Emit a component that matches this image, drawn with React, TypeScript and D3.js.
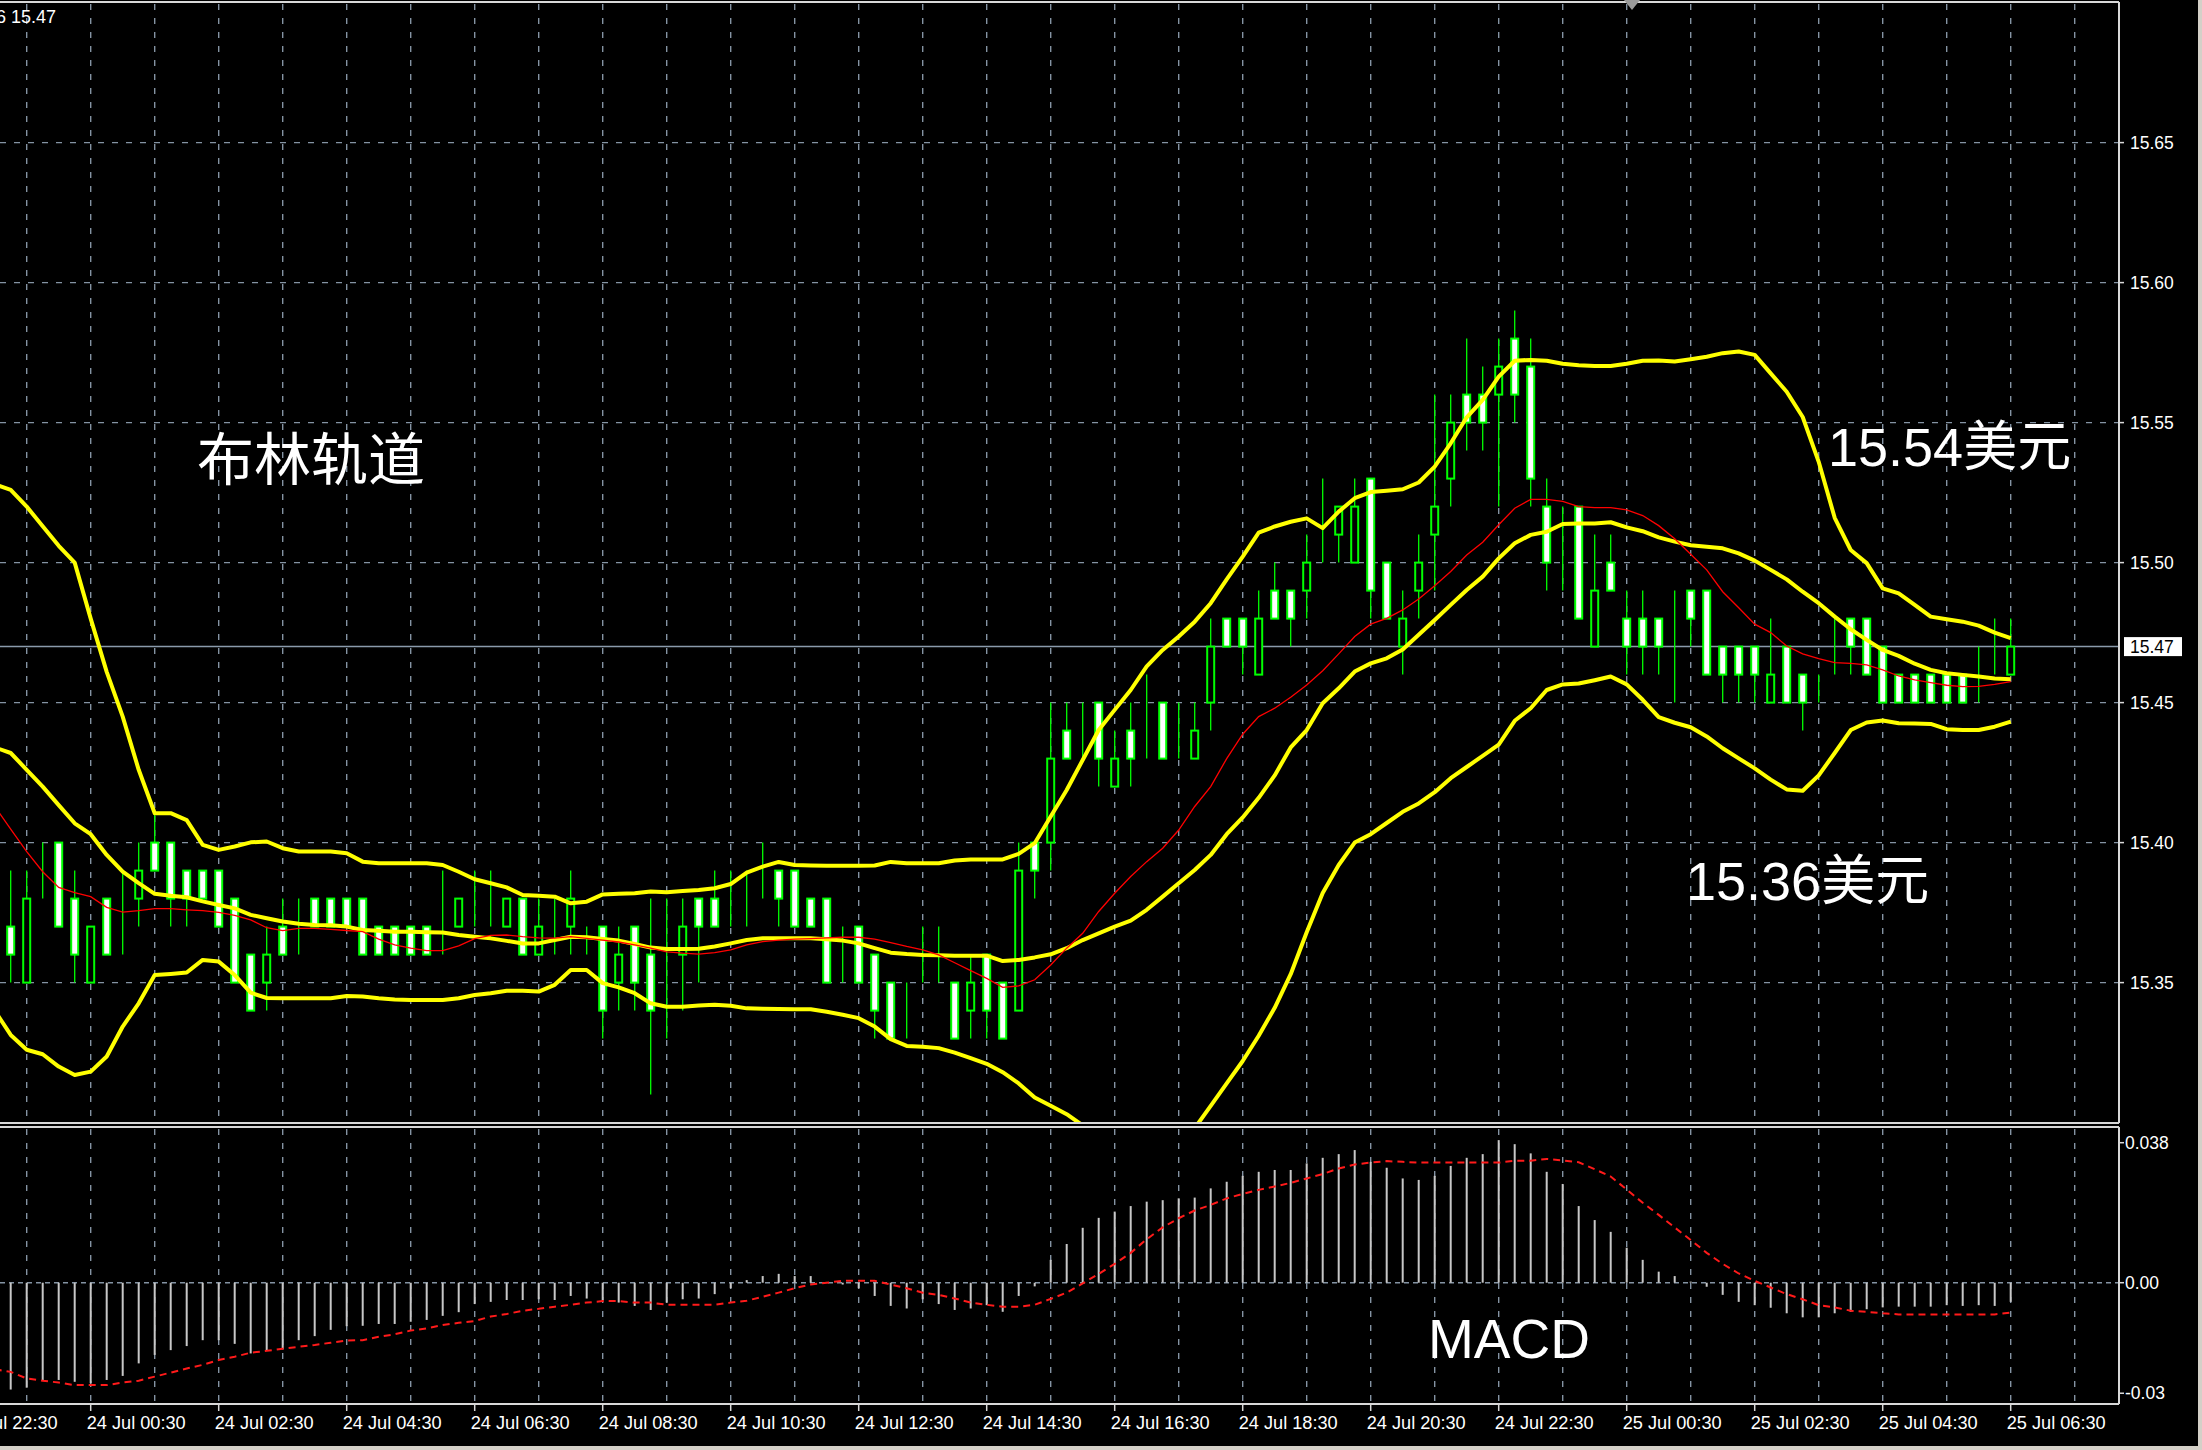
import React from 'react';
import * as d3 from 'd3';

const W = 2202;
const H = 1450;

// candle index 0 = 23 Jul 23:00 (M15), last = 25 Jul 06:30
const firstTime = Date.UTC(2019, 6, 23, 23, 0);
const BAR_MINUTES = 15;

const opens = [15.36,15.37,15.35,15.39,15.40,15.38,15.35,15.38,15.37,15.38,15.40,15.40,15.39,15.39,15.39,15.38,15.36,15.35,15.37,15.37,15.38,15.38,15.38,15.38,15.37,15.37,15.37,15.37,15.37,15.37,15.38,15.37,15.37,15.38,15.36,15.37,15.37,15.36,15.37,15.35,15.37,15.36,15.35,15.36,15.38,15.38,15.38,15.38,15.38,15.39,15.39,15.38,15.38,15.36,15.37,15.36,15.35,15.34,15.35,15.35,15.35,15.34,15.36,15.35,15.34,15.40,15.40,15.44,15.44,15.45,15.42,15.44,15.44,15.45,15.44,15.43,15.45,15.48,15.48,15.46,15.49,15.49,15.49,15.51,15.51,15.50,15.53,15.50,15.47,15.49,15.51,15.53,15.56,15.56,15.56,15.58,15.57,15.52,15.51,15.52,15.47,15.50,15.48,15.48,15.48,15.48,15.49,15.49,15.47,15.47,15.47,15.45,15.47,15.46,15.46,15.47,15.48,15.48,15.47,15.46,15.46,15.46,15.46,15.46,15.46,15.47,15.46];
const highs = [15.38,15.39,15.39,15.40,15.40,15.39,15.37,15.38,15.39,15.40,15.41,15.40,15.39,15.39,15.39,15.38,15.36,15.37,15.38,15.38,15.38,15.38,15.38,15.38,15.37,15.37,15.37,15.37,15.39,15.38,15.39,15.39,15.38,15.38,15.38,15.38,15.39,15.37,15.37,15.37,15.37,15.38,15.38,15.38,15.38,15.39,15.39,15.39,15.40,15.39,15.39,15.38,15.38,15.37,15.37,15.36,15.35,15.35,15.37,15.37,15.35,15.36,15.36,15.35,15.40,15.40,15.45,15.45,15.45,15.45,15.44,15.45,15.46,15.45,15.45,15.45,15.48,15.48,15.48,15.49,15.50,15.49,15.51,15.53,15.52,15.53,15.53,15.50,15.49,15.51,15.56,15.56,15.58,15.57,15.58,15.59,15.58,15.53,15.52,15.52,15.51,15.51,15.49,15.49,15.48,15.49,15.49,15.49,15.47,15.47,15.47,15.48,15.47,15.46,15.46,15.48,15.48,15.48,15.47,15.46,15.46,15.46,15.46,15.46,15.47,15.48,15.48];
const lows = [15.35,15.35,15.35,15.38,15.37,15.35,15.35,15.36,15.36,15.37,15.39,15.37,15.37,15.38,15.37,15.35,15.34,15.34,15.36,15.36,15.37,15.37,15.37,15.36,15.36,15.36,15.36,15.36,15.36,15.37,15.37,15.37,15.37,15.36,15.36,15.36,15.36,15.36,15.33,15.34,15.34,15.31,15.33,15.34,15.35,15.37,15.37,15.37,15.38,15.37,15.37,15.37,15.35,15.35,15.35,15.33,15.33,15.33,15.35,15.35,15.33,15.33,15.33,15.33,15.34,15.38,15.39,15.43,15.43,15.42,15.42,15.42,15.43,15.43,15.43,15.43,15.44,15.47,15.46,15.46,15.48,15.47,15.48,15.50,15.50,15.50,15.48,15.48,15.46,15.48,15.49,15.52,15.54,15.54,15.52,15.55,15.52,15.49,15.49,15.48,15.47,15.49,15.46,15.46,15.46,15.45,15.47,15.46,15.45,15.45,15.45,15.45,15.45,15.44,15.45,15.46,15.46,15.46,15.45,15.45,15.45,15.45,15.45,15.45,15.45,15.46,15.46];
const closes = [15.37,15.36,15.38,15.39,15.37,15.36,15.37,15.36,15.37,15.39,15.39,15.38,15.38,15.38,15.37,15.35,15.34,15.36,15.36,15.37,15.37,15.37,15.37,15.36,15.36,15.36,15.36,15.36,15.37,15.38,15.38,15.37,15.38,15.36,15.37,15.37,15.38,15.36,15.34,15.36,15.35,15.34,15.35,15.37,15.37,15.37,15.38,15.38,15.38,15.38,15.37,15.37,15.35,15.36,15.35,15.34,15.33,15.34,15.35,15.35,15.33,15.35,15.34,15.33,15.39,15.39,15.43,15.43,15.44,15.43,15.43,15.43,15.44,15.43,15.44,15.44,15.47,15.47,15.47,15.48,15.48,15.48,15.50,15.51,15.52,15.52,15.49,15.48,15.48,15.50,15.52,15.55,15.55,15.55,15.57,15.56,15.53,15.50,15.51,15.48,15.49,15.49,15.47,15.47,15.47,15.48,15.48,15.46,15.46,15.46,15.46,15.46,15.45,15.45,15.46,15.47,15.47,15.46,15.45,15.45,15.45,15.45,15.45,15.45,15.46,15.47,15.47];

const bbUpper = [15.528,15.526,15.520,15.513,15.506,15.500,15.480,15.461,15.445,15.426,15.4105,15.4105,15.408,15.3992,15.3974,15.3986,15.4001,15.4004,15.398,15.3968,15.3968,15.3968,15.3962,15.3932,15.3926,15.3926,15.3926,15.3926,15.392,15.3896,15.3869,15.3855,15.384,15.3813,15.381,15.3807,15.3783,15.3789,15.3815,15.3817,15.3819,15.3825,15.3823,15.3827,15.3831,15.3837,15.3852,15.3893,15.3914,15.3931,15.392,15.3918,15.3917,15.3917,15.3917,15.3918,15.3931,15.3926,15.3926,15.3926,15.3936,15.394,15.394,15.394,15.396,15.3998,15.4093,15.4188,15.4295,15.4402,15.4474,15.4545,15.4629,15.4688,15.4736,15.4789,15.4855,15.494,15.5021,15.5107,15.5129,15.5146,15.5158,15.5123,15.5182,15.523,15.5252,15.5257,15.5262,15.5286,15.5343,15.5426,15.5519,15.5581,15.5664,15.5721,15.5724,15.5721,15.571,15.5705,15.5702,15.5702,15.571,15.5721,15.5722,15.5718,15.5726,15.5735,15.5748,15.5754,15.5742,15.5676,15.561,15.552,15.536,15.516,15.5045,15.4998,15.4908,15.489,15.4849,15.4807,15.4798,15.4789,15.4775,15.475,15.473];
const bbMiddle = [15.434,15.432,15.426,15.420,15.4134,15.4069,15.403,15.3956,15.3896,15.3855,15.3817,15.381,15.3805,15.379,15.3777,15.3765,15.3742,15.373,15.3718,15.371,15.3706,15.3705,15.370,15.3688,15.3685,15.3682,15.3682,15.368,15.3679,15.367,15.3664,15.3658,15.3649,15.364,15.364,15.3652,15.3664,15.3662,15.3656,15.365,15.3638,15.3625,15.362,15.362,15.3621,15.3629,15.364,15.3652,15.3658,15.3658,15.3658,15.3658,15.3655,15.365,15.364,15.3623,15.3607,15.3602,15.3599,15.3598,15.3596,15.3596,15.3596,15.3577,15.3581,15.359,15.3601,15.3623,15.3652,15.3676,15.370,15.3721,15.376,15.3807,15.3855,15.3902,15.3956,15.403,15.409,15.416,15.424,15.434,15.4402,15.4498,15.4551,15.4611,15.464,15.4658,15.469,15.4742,15.4795,15.4849,15.4902,15.495,15.5015,15.5069,15.5099,15.511,15.5138,15.514,15.514,15.5144,15.5126,15.5112,15.509,15.5075,15.5062,15.5057,15.5051,15.5033,15.5007,15.4974,15.494,15.4896,15.4855,15.4807,15.4762,15.4724,15.4688,15.4667,15.4639,15.4617,15.4605,15.4599,15.4593,15.4586,15.4583];
const bbLower = [15.340,15.3313,15.326,15.3244,15.320,15.317,15.3182,15.3236,15.3343,15.3426,15.3527,15.3531,15.3536,15.3581,15.3575,15.3527,15.3464,15.3445,15.3444,15.3444,15.3444,15.3444,15.3452,15.345,15.3444,15.344,15.3438,15.3438,15.3438,15.3444,15.3456,15.3462,15.3471,15.3471,15.3468,15.3492,15.3545,15.3545,15.3498,15.3483,15.3462,15.3426,15.3414,15.3414,15.3418,15.3421,15.3417,15.3408,15.3407,15.3406,15.3405,15.3405,15.3396,15.3385,15.3373,15.3343,15.3298,15.3274,15.3271,15.3266,15.325,15.323,15.321,15.318,15.314,15.309,15.306,15.303,15.299,15.285,15.27,15.262,15.262,15.272,15.288,15.298,15.306,15.314,15.322,15.331,15.341,15.353,15.368,15.382,15.392,15.400,15.403,15.407,15.411,15.414,15.418,15.423,15.427,15.431,15.435,15.4435,15.448,15.4545,15.4565,15.4568,15.458,15.4593,15.4565,15.451,15.4448,15.4428,15.4412,15.4379,15.4337,15.4301,15.4265,15.4225,15.419,15.4185,15.424,15.432,15.4402,15.4429,15.4436,15.4426,15.4425,15.4424,15.4405,15.4402,15.4402,15.4414,15.4432];
const redMA = [15.413,15.4048,15.3968,15.3896,15.384,15.3821,15.3807,15.3769,15.3752,15.3757,15.3764,15.3764,15.376,15.3757,15.3751,15.374,15.3724,15.3696,15.3686,15.3694,15.3694,15.369,15.3686,15.3682,15.3655,15.3635,15.3623,15.3614,15.3614,15.3631,15.3657,15.3669,15.367,15.3664,15.366,15.3659,15.3664,15.3658,15.3652,15.3645,15.3635,15.3623,15.361,15.3605,15.3602,15.3607,15.3617,15.3635,15.3646,15.3652,15.3655,15.3657,15.366,15.3662,15.3662,15.3655,15.3643,15.3629,15.3617,15.3599,15.3571,15.3543,15.3515,15.3483,15.3488,15.351,15.3563,15.3623,15.3676,15.3754,15.3819,15.3879,15.3932,15.398,15.4045,15.4129,15.42,15.43,15.4387,15.445,15.448,15.4519,15.4563,15.4614,15.4674,15.4736,15.478,15.4801,15.4831,15.487,15.4917,15.4968,15.5027,15.5073,15.5135,15.5194,15.5226,15.5226,15.5219,15.52,15.5196,15.5196,15.5188,15.5168,15.5132,15.5085,15.503,15.4974,15.4896,15.4839,15.478,15.475,15.4702,15.4674,15.4657,15.4643,15.464,15.4635,15.4617,15.4595,15.4581,15.4571,15.4562,15.4557,15.4558,15.4565,15.4575];

const macdHist = [-0.0292,-0.029,-0.0285,-0.0264,-0.0264,-0.0269,-0.0273,-0.0264,-0.0253,-0.0219,-0.0196,-0.0183,-0.0172,-0.0156,-0.0156,-0.0166,-0.0192,-0.0183,-0.0181,-0.0156,-0.0145,-0.0128,-0.0118,-0.0117,-0.0112,-0.0112,-0.0106,-0.0101,-0.009,-0.008,-0.0058,-0.0052,-0.0047,-0.0047,-0.0045,-0.0047,-0.0036,-0.0043,-0.0047,-0.0054,-0.0063,-0.0074,-0.0054,-0.0045,-0.0043,-0.0031,-0.0015,0.0007,0.0018,0.0024,0.0018,0.0018,0.0002,-0.0005,-0.0015,-0.0036,-0.0063,-0.007,-0.0045,-0.0058,-0.0074,-0.007,-0.0061,-0.0079,-0.0036,-0.001,0.0062,0.0105,0.0149,0.0176,0.0193,0.0208,0.022,0.0224,0.0229,0.0231,0.0256,0.0274,0.029,0.0301,0.0306,0.0306,0.0324,0.0339,0.0349,0.036,0.0328,0.0312,0.0283,0.0279,0.029,0.0317,0.0339,0.0349,0.0387,0.0376,0.0351,0.0301,0.0268,0.0208,0.017,0.0138,0.0095,0.0062,0.003,0.0018,0.0003,-0.0011,-0.0033,-0.0052,-0.0061,-0.0068,-0.0083,-0.0094,-0.0094,-0.0083,-0.0079,-0.0072,-0.0067,-0.0065,-0.0065,-0.0065,-0.0061,-0.0063,-0.0061,-0.0063,-0.0052];
const macdSignal = [-0.0235,-0.0242,-0.026,-0.0266,-0.0271,-0.0278,-0.0278,-0.0278,-0.0271,-0.0266,-0.0255,-0.0244,-0.0233,-0.0223,-0.021,-0.0201,-0.019,-0.0185,-0.0179,-0.0174,-0.0169,-0.0163,-0.0157,-0.0156,-0.0147,-0.014,-0.013,-0.0124,-0.0115,-0.0109,-0.0104,-0.0092,-0.0085,-0.0076,-0.0071,-0.0065,-0.006,-0.0054,-0.005,-0.005,-0.0054,-0.0054,-0.006,-0.006,-0.006,-0.006,-0.0054,-0.0049,-0.0038,-0.0027,-0.0015,-0.0005,0,0.0005,0.0005,0.0005,-0.0005,-0.0015,-0.0027,-0.0033,-0.0043,-0.0054,-0.006,-0.0065,-0.0065,-0.006,-0.0044,-0.0027,-0.0002,0.0024,0.0051,0.0081,0.0118,0.015,0.0175,0.0196,0.0211,0.0229,0.0241,0.0252,0.0261,0.0271,0.0283,0.0295,0.031,0.0321,0.0326,0.033,0.0328,0.0326,0.0326,0.0326,0.0326,0.0326,0.0326,0.0331,0.0331,0.0336,0.0332,0.0327,0.0308,0.0288,0.0253,0.0217,0.0184,0.015,0.0116,0.0081,0.0051,0.0025,0.0005,-0.0013,-0.0031,-0.0045,-0.0061,-0.0067,-0.0076,-0.0079,-0.0083,-0.0086,-0.0086,-0.0086,-0.0086,-0.0086,-0.0086,-0.0086,-0.0081];

const priceTicks = [15.35, 15.40, 15.45, 15.50, 15.55, 15.60, 15.65];
const macdTicks = [0.038, 0, -0.03];
const macdTickLabels = ['0.038', '0.00', '-0.03'];
const timeLabels = ['23 Jul 22:30','24 Jul 00:30','24 Jul 02:30','24 Jul 04:30','24 Jul 06:30','24 Jul 08:30','24 Jul 10:30','24 Jul 12:30','24 Jul 14:30','24 Jul 16:30','24 Jul 18:30','24 Jul 20:30','24 Jul 22:30','25 Jul 00:30','25 Jul 02:30','25 Jul 04:30','25 Jul 06:30'];
const lastPrice = 15.47;
const headerText = '15.46 15.47';
const annoBoll = '布林轨道';
const annoHigh = '15.54美元';
const annoLow = '15.36美元';
const annoMacd = 'MACD';

// layout
const PLOT_RIGHT = 2119;
const MAIN_TOP = 2;
const MAIN_BOTTOM = 1123;
const MACD_TOP = 1127;
const MACD_BOTTOM = 1404;
const BAR_STEP = 16;
const FIRST_X = -5.3;

const GREEN = '#00ff00';
const YELLOW = '#ffff00';
const GRID = '#8493a3';
const BORDER = '#d8d8d8';
const LABEL_FONT = '"Liberation Sans", Arial, sans-serif';
const CJK_FONT = '"Liberation Sans", "Noto Sans CJK SC", sans-serif';

function labelIndex(label: string): number {
  const day = +label.slice(0, 2);
  const hh = +label.slice(7, 9);
  const mm = +label.slice(10, 12);
  const t = Date.UTC(2019, 6, day, hh, mm);
  return (t - firstTime) / (BAR_MINUTES * 60000);
}

export default function App() {
  const N = opens.length;
  const x = d3.scaleLinear().domain([0, N - 1]).range([FIRST_X, FIRST_X + BAR_STEP * (N - 1)]);
  const y = d3.scaleLinear().domain([15.30, 15.70]).range([1122.6, 2.6]);
  const ym = d3.scaleLinear().domain([0, 0.038]).range([1282.7, 1142.7]);

  const idx = d3.range(N);
  const lineGen = (arr: number[]) =>
    d3.line<number>().x((i) => x(i)).y((i) => y(arr[i]))(idx) || '';
  const sigLine = d3.line<number>().x((i) => x(i)).y((i) => ym(macdSignal[i]))(idx) || '';

  // vertical grid at every hour :30 (index 2 + 4j)
  const vGrid: number[] = [];
  for (let i = 2; x(i) < PLOT_RIGHT - 2; i += 4) vGrid.push(x(i));

  const bodyHalf = 3.5;

  return (
    <svg
      width={W}
      height={H}
      style={{ position: 'absolute', left: 0, top: 0, display: 'block', background: '#000' }}
      xmlns="http://www.w3.org/2000/svg"
    >
      <rect x={0} y={0} width={W} height={H} fill="#000" />
      <defs>
        <clipPath id="mainClip">
          <rect x={0} y={MAIN_TOP + 1} width={PLOT_RIGHT - 1} height={MAIN_BOTTOM - MAIN_TOP - 2} />
        </clipPath>
        <clipPath id="macdClip">
          <rect x={0} y={MACD_TOP + 1} width={PLOT_RIGHT - 1} height={MACD_BOTTOM - MACD_TOP - 2} />
        </clipPath>
      </defs>

      {/* grid */}
      <g stroke={GRID} strokeWidth={1.4} strokeDasharray="6 8" fill="none">
        {vGrid.map((gx, i) => (
          <g key={'vg' + i}>
            <line x1={gx} x2={gx} y1={MAIN_TOP + 2} y2={MAIN_BOTTOM - 1} />
            <line x1={gx} x2={gx} y1={MACD_TOP + 2} y2={MACD_BOTTOM - 1} />
          </g>
        ))}
        {priceTicks.map((p, i) => (
          <line key={'hg' + i} x1={0} x2={PLOT_RIGHT} y1={y(p)} y2={y(p)} />
        ))}
        <line x1={0} x2={PLOT_RIGHT} y1={ym(0)} y2={ym(0)} strokeDasharray="5 4" />
      </g>

      {/* current price line */}
      <line x1={0} x2={PLOT_RIGHT} y1={y(lastPrice)} y2={y(lastPrice)} stroke="#8a9aab" strokeWidth={1.5} />

      {/* candles */}
      <g clipPath="url(#mainClip)">
        {idx.map((i) => {
          const cx = x(i);
          const o = opens[i], c = closes[i];
          const top = y(Math.max(o, c));
          const bot = y(Math.min(o, c));
          const bear = c < o;
          return (
            <g key={'c' + i}>
              <line x1={cx} x2={cx} y1={y(highs[i])} y2={y(lows[i])} stroke={GREEN} strokeWidth={1.3} />
              <rect
                x={cx - bodyHalf}
                y={top}
                width={bodyHalf * 2}
                height={bot - top}
                fill={bear ? '#ffffff' : '#000000'}
                stroke={GREEN}
                strokeWidth={2}
              />
            </g>
          );
        })}
        <path d={lineGen(bbUpper)} fill="none" stroke={YELLOW} strokeWidth={4} strokeLinejoin="round" />
        <path d={lineGen(bbMiddle)} fill="none" stroke={YELLOW} strokeWidth={4} strokeLinejoin="round" />
        <path d={lineGen(bbLower)} fill="none" stroke={YELLOW} strokeWidth={4} strokeLinejoin="round" />
        <path d={lineGen(redMA)} fill="none" stroke="#ff0000" strokeWidth={1.3} />
      </g>

      {/* MACD */}
      <g clipPath="url(#macdClip)">
        {idx.map((i) => (
          <line
            key={'h' + i}
            x1={x(i)}
            x2={x(i)}
            y1={ym(0)}
            y2={ym(macdHist[i])}
            stroke="#c8c8c8"
            strokeWidth={2}
          />
        ))}
        <path d={sigLine} fill="none" stroke="#ff1a1a" strokeWidth={2} strokeDasharray="7 5" />
      </g>

      {/* borders */}
      <g stroke={BORDER} strokeWidth={2} fill="none">
        <line x1={0} x2={PLOT_RIGHT} y1={MAIN_TOP} y2={MAIN_TOP} />
        <line x1={0} x2={PLOT_RIGHT} y1={MAIN_BOTTOM} y2={MAIN_BOTTOM} />
        <line x1={PLOT_RIGHT} x2={PLOT_RIGHT} y1={MAIN_TOP} y2={MAIN_BOTTOM} />
        <line x1={0} x2={PLOT_RIGHT} y1={MACD_TOP} y2={MACD_TOP} />
        <line x1={0} x2={PLOT_RIGHT} y1={MACD_BOTTOM} y2={MACD_BOTTOM} />
        <line x1={PLOT_RIGHT} x2={PLOT_RIGHT} y1={MACD_TOP} y2={MACD_BOTTOM} />
      </g>

      {/* shift marker */}
      <path d="M1624,0 L1640,0 L1632,10 Z" fill="#9a9a9a" />

      {/* price axis */}
      {priceTicks.map((p, i) => (
        <g key={'pt' + i}>
          <line x1={PLOT_RIGHT} x2={PLOT_RIGHT + 5} y1={y(p)} y2={y(p)} stroke={BORDER} strokeWidth={1.5} />
          <text x={2130} y={y(p)} dy="0.35em" fill="#fff" fontSize={17.5} fontFamily={LABEL_FONT}>
            {p.toFixed(2)}
          </text>
        </g>
      ))}
      <rect x={2124} y={y(lastPrice) - 9.5} width={58} height={19} fill="#fff" />
      <text x={2130} y={y(lastPrice)} dy="0.35em" fill="#000" fontSize={17.5} fontFamily={LABEL_FONT}>
        {lastPrice.toFixed(2)}
      </text>

      {/* macd axis */}
      {macdTicks.map((v, i) => (
        <g key={'mt' + i}>
          <line x1={PLOT_RIGHT} x2={PLOT_RIGHT + 5} y1={ym(v)} y2={ym(v)} stroke={BORDER} strokeWidth={1.5} />
          <text x={2125} y={ym(v)} dy="0.35em" fill="#fff" fontSize={17.5} fontFamily={LABEL_FONT}>
            {macdTickLabels[i]}
          </text>
        </g>
      ))}

      {/* time axis */}
      {timeLabels.map((lab, i) => {
        const tx = x(labelIndex(lab));
        return (
          <g key={'tl' + i}>
            <line x1={tx} x2={tx} y1={MACD_BOTTOM} y2={MACD_BOTTOM + 7} stroke={BORDER} strokeWidth={1.5} />
            <text
              x={tx - 4}
              y={1429}
              fill="#fff"
              fontSize={18}
              fontFamily={LABEL_FONT}
              textLength={99}
              lengthAdjust="spacingAndGlyphs"
            >
              {lab}
            </text>
          </g>
        );
      })}

      {/* header */}
      <text x={56} y={23} textAnchor="end" fill="#fff" fontSize={18} fontFamily={LABEL_FONT}>
        {headerText}
      </text>

      {/* annotations */}
      <text x={197} y={480} fill="#fff" fontSize={57} fontFamily='"Noto Sans CJK SC", sans-serif'>
        {annoBoll}
      </text>
      <text x={1828} y={466} fill="#fff" fontSize={54} fontFamily={CJK_FONT}>
        {annoHigh}
      </text>
      <text x={1686} y={900} fill="#fff" fontSize={54} fontFamily={CJK_FONT}>
        {annoLow}
      </text>
      <text x={1428} y={1358} fill="#fff" fontSize={56} fontFamily={LABEL_FONT} textLength={162} lengthAdjust="spacingAndGlyphs">
        {annoMacd}
      </text>

      {/* window edges */}
      <rect x={W - 4} y={0} width={4} height={H} fill="#d4d0c8" />
      <rect x={0} y={H - 4} width={W} height={4} fill="#d4d0c8" />
    </svg>
  );
}
